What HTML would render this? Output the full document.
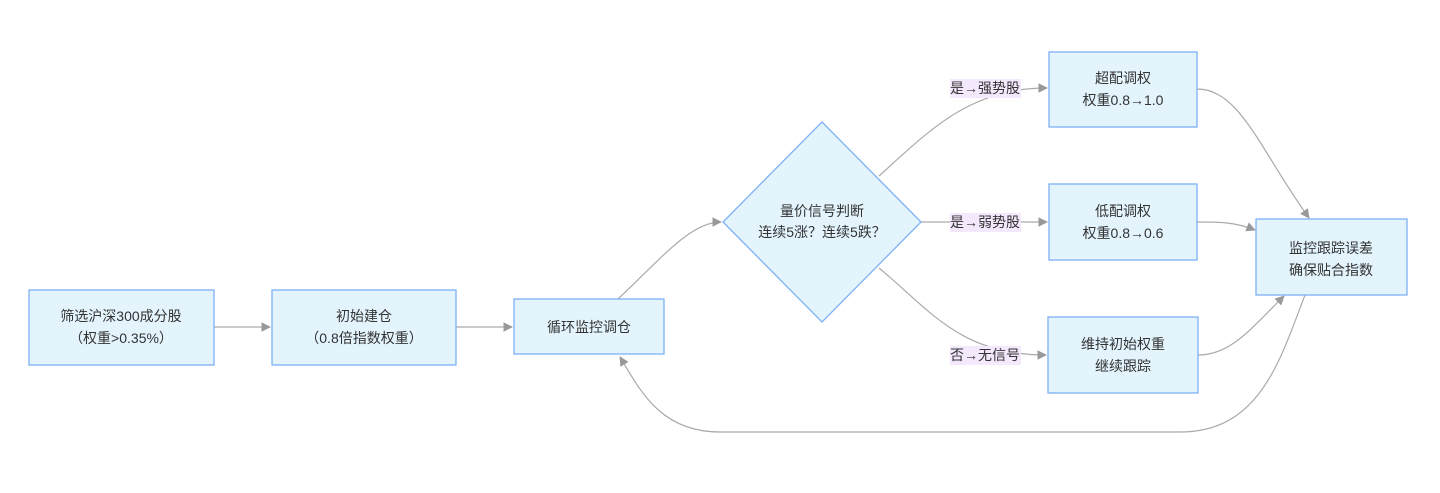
<!DOCTYPE html>
<html><head><meta charset="utf-8"><style>
body{margin:0;background:#fff;}
svg text{font-family:"Liberation Sans","Noto Sans CJK SC",sans-serif;font-size:14px;fill:#333;text-anchor:middle;}
</style></head><body>
<svg width="1440" height="488" viewBox="0 0 1440 488" xmlns="http://www.w3.org/2000/svg">
<defs><marker id="a" viewBox="0 0 10 10" refX="9" refY="5" markerWidth="8" markerHeight="8" orient="auto"><path d="M0,0L10,5L0,10z" fill="#999"/></marker></defs>
<g fill="none" stroke="#aaa" stroke-width="1.2">
<path d="M214,327H270" marker-end="url(#a)"/>
<path d="M456,327H512" marker-end="url(#a)"/>
<path d="M618,299C660,260 690,222 721,222" marker-end="url(#a)"/>
<path d="M879,176C930,130 970,88 1047,88" marker-end="url(#a)"/>
<path d="M921,222H1047" marker-end="url(#a)"/>
<path d="M879,268C930,310 960,355 1046,355" marker-end="url(#a)"/>
<path d="M1197,89C1240,89 1260,150 1309,218" marker-end="url(#a)"/>
<path d="M1197,222C1220,222 1235,222 1255,230" marker-end="url(#a)"/>
<path d="M1198,355C1230,355 1250,330 1284,296" marker-end="url(#a)"/>
<path d="M1305,295C1280,360 1260,432 1180,432H720C660,432 640,390 620,357" marker-end="url(#a)"/>
</g>
<g fill="#e3f4fd" stroke="#7eb1f5" stroke-width="1.3">
<rect x="29" y="290" width="185" height="75"/>
<rect x="272" y="290" width="184" height="75"/>
<rect x="514" y="299" width="150" height="55"/>
<path d="M822,122L921,222L822,322L723,222z"/>
<rect x="1049" y="52" width="148" height="75"/>
<rect x="1049" y="184" width="148" height="76"/>
<rect x="1048" y="317" width="150" height="76"/>
<rect x="1256" y="219" width="151" height="76"/>
</g>
<g fill="#f3e8fc">
<rect x="950" y="79" width="71" height="19"/>
<rect x="950" y="213" width="71" height="19"/>
<rect x="950" y="346" width="71" height="19"/>
</g>
<text x="121" y="321">筛选沪深300成分股</text><text x="121" y="343">（权重&gt;0.35%）</text>
<text x="364" y="321">初始建仓</text><text x="364" y="343">（0.8倍指数权重）</text>
<text x="589" y="332">循环监控调仓</text>
<text x="822" y="216">量价信号判断</text><text x="822" y="237">连续5涨？连续5跌？</text>
<text x="1123" y="83">超配调权</text><text x="1123" y="105">权重0.8→1.0</text>
<text x="1123" y="216">低配调权</text><text x="1123" y="238">权重0.8→0.6</text>
<text x="1123" y="349">维持初始权重</text><text x="1123" y="371">继续跟踪</text>
<text x="1331" y="253">监控跟踪误差</text><text x="1331" y="275">确保贴合指数</text>
<text x="985" y="93">是→强势股</text>
<text x="985" y="227">是→弱势股</text>
<text x="985" y="360">否→无信号</text>
</svg>
</body></html>
